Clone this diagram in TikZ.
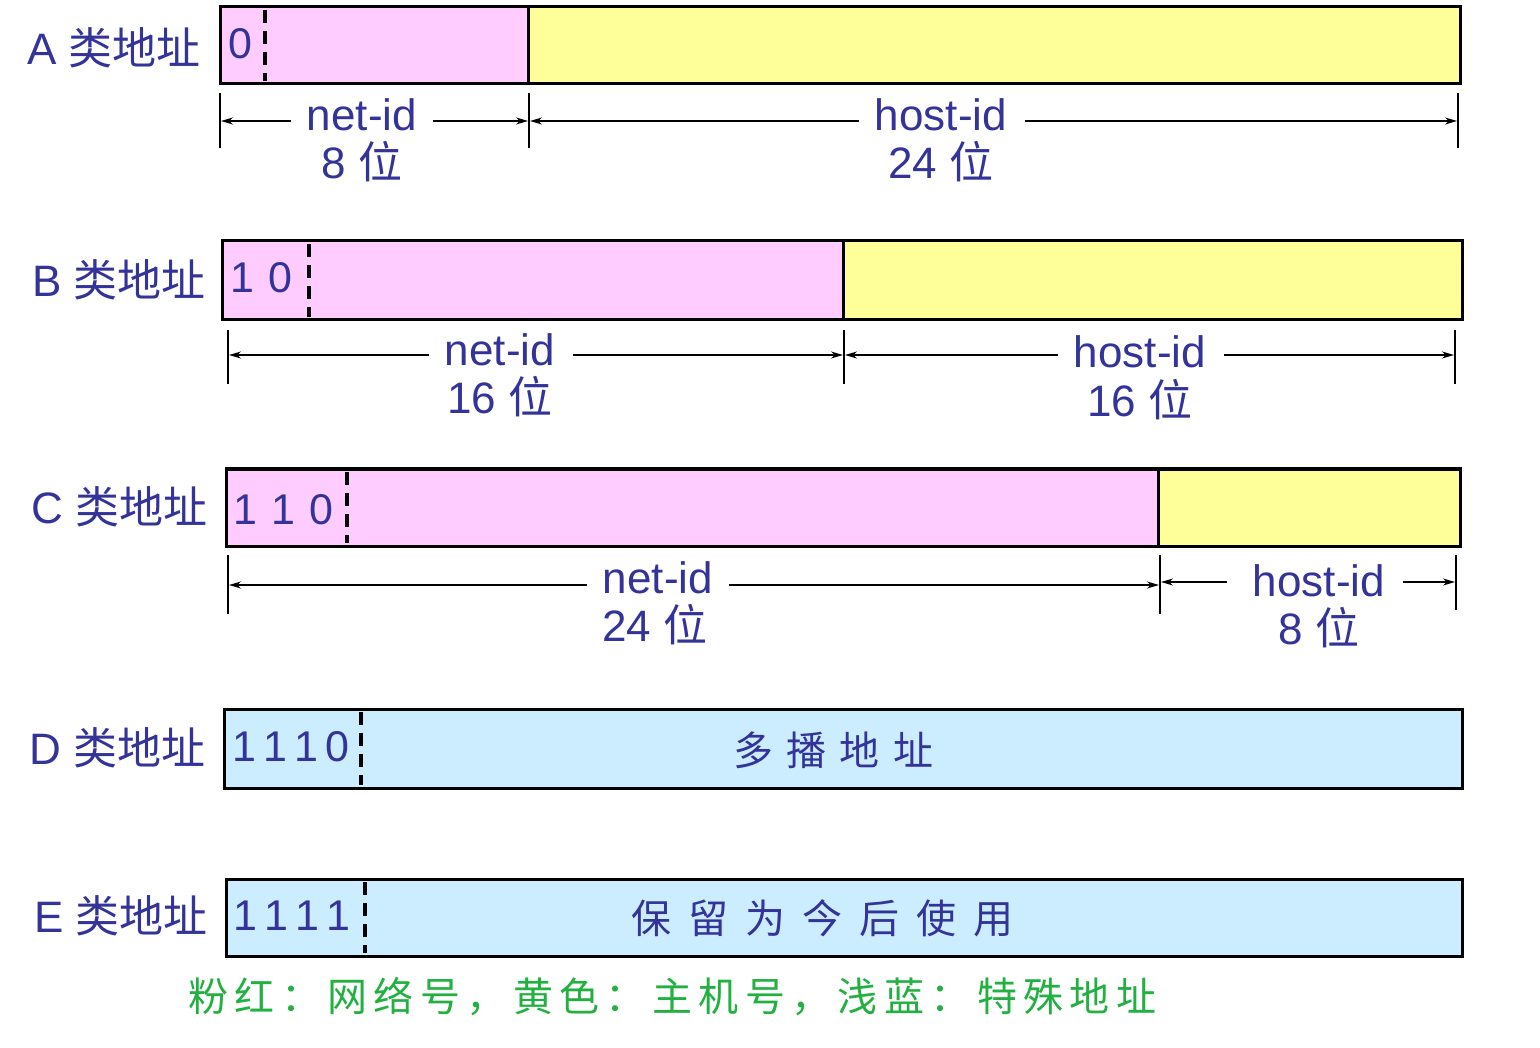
\documentclass[tikz,border=0pt]{standalone}
\usepackage{fontspec}
\setmainfont{Liberation Sans}
\newfontfamily\cjk{Noto Sans CJK SC}
\newfontfamily\cjkwide[LetterSpace=16]{Noto Sans CJK SC}
\usetikzlibrary{arrows.meta}
\definecolor{pinkf}{HTML}{FFCCFF}
\definecolor{yellowf}{HTML}{FFFF99}
\definecolor{bluef}{HTML}{CCECFF}
\definecolor{txt}{HTML}{333399}
\definecolor{grn}{HTML}{22B040}
\tikzset{
  frame/.style={draw=black,line width=3pt},
  sep/.style={draw=black,line width=3pt},
  dsh/.style={draw=black,line width=3.5pt,dash pattern=on 13pt off 8pt},
  cls/.style={text=txt,font=\fontsize{44}{48}\selectfont,anchor=east,inner sep=0pt},
  bits/.style={text=txt,font=\fontsize{43}{46}\selectfont,anchor=west,inner sep=0pt},
  lbl/.style={text=txt,font=\fontsize{44}{48}\selectfont,inner sep=0pt},
  tick/.style={draw=black,line width=1.5pt},
  dim/.style={draw=black,line width=1.5pt,-{Stealth[length=12pt,width=7pt]}},
}
\begin{document}
\begin{tikzpicture}[x=1pt,y=-1pt]
\useasboundingbox (0,0) rectangle (1540,1048);
% ---------- A ----------
\fill[pinkf] (220,7) rectangle (528,84);
\fill[yellowf] (528,7) rectangle (1460,84);
\draw[frame] (220,7) rectangle (1460,84);
\draw[sep] (528,7) -- (528,84);
\draw[dsh] (265,10) -- (265,81);
\node[cls] (la) at (201,48) {A {\cjk 类地址}};
\node[bits] (ba) at (228,44) {0};
\draw[tick] (220,93) -- (220,148);
\draw[tick] (529,93) -- (529,148);
\draw[tick] (1458,93) -- (1458,148);
\coordinate (a1) at (221,121);
\coordinate (a2) at (528,121);
\coordinate (a3) at (530,121);
\coordinate (a4) at (1457,121);
\node[lbl] (na) at (362,115) {net-id};
\node[lbl] (na2) at (362,162) {8 {\cjk 位}};
\node[lbl] (ha) at (941,115) {host-id};
\node[lbl] (ha2) at (941,162) {24 {\cjk 位}};
\draw[dim] ([xshift=-16pt]na.west|-a1) -- (a1);
\draw[dim] ([xshift=16pt]na.east|-a2) -- (a2);
\draw[dim] ([xshift=-16pt]ha.west|-a3) -- (a3);
\draw[dim] ([xshift=18pt]ha.east|-a4) -- (a4);
% ---------- B ----------
\fill[pinkf] (222,241) rectangle (843,320);
\fill[yellowf] (843,241) rectangle (1462,320);
\draw[frame] (222,241) rectangle (1462,320);
\draw[sep] (843,241) -- (843,320);
\draw[dsh] (309,244) -- (309,317);
\node[cls] (lb) at (206,280) {B {\cjk 类地址}};
\node[bits] (bb) at (230,278) {1\,\,0};
\draw[tick] (228,330) -- (228,384);
\draw[tick] (844,330) -- (844,384);
\draw[tick] (1455,330) -- (1455,384);
\coordinate (b1) at (229,355);
\coordinate (b2) at (843,355);
\coordinate (b3) at (845,355);
\coordinate (b4) at (1454,355);
\node[lbl] (nb) at (500,350) {net-id};
\node[lbl] (nb2) at (500,397) {16 {\cjk 位}};
\node[lbl] (hb) at (1140,352) {host-id};
\node[lbl] (hb2) at (1140,400) {16 {\cjk 位}};
\draw[dim] ([xshift=-16pt]nb.west|-b1) -- (b1);
\draw[dim] ([xshift=18pt]nb.east|-b2) -- (b2);
\draw[dim] ([xshift=-16pt]hb.west|-b3) -- (b3);
\draw[dim] ([xshift=18pt]hb.east|-b4) -- (b4);
% ---------- C ----------
\fill[pinkf] (226,469) rectangle (1158,546);
\fill[yellowf] (1158,469) rectangle (1460,546);
\draw[frame] (226,469) rectangle (1460,546);
\draw[sep] (1158,469) -- (1158,546);
\draw[dsh] (347,472) -- (347,543);
\node[cls] (lc) at (208,507) {C {\cjk 类地址}};
\node[bits] (bc) at (233,510) {1\,\,1\,\,0};
\draw[tick] (228,555) -- (228,614);
\draw[tick] (1160,555) -- (1160,614);
\draw[tick] (1456,555) -- (1456,610);
\coordinate (c1) at (229,585);
\coordinate (c2) at (1159,585);
\coordinate (c3) at (1161,582);
\coordinate (c4) at (1455,582);
\node[lbl] (nc) at (658,578) {net-id};
\node[lbl] (nc2) at (655,625) {24 {\cjk 位}};
\node[lbl] (hc) at (1319,581) {host-id};
\node[lbl] (hc2) at (1319,628) {8 {\cjk 位}};
\draw[dim] ([xshift=-16pt]nc.west|-c1) -- (c1);
\draw[dim] ([xshift=16pt]nc.east|-c2) -- (c2);
\draw[dim] ([xshift=-26pt]hc.west|-c3) -- (c3);
\draw[dim] ([xshift=18pt]hc.east|-c4) -- (c4);
% ---------- D ----------
\fill[bluef] (224,709) rectangle (1462,788);
\draw[frame] (224,709) rectangle (1462,788);
\draw[dsh] (361,712) -- (361,785);
\node[cls] (ld) at (206,748) {D {\cjk 类地址}};
\node[bits] (bd) at (232,747) {1\,1\,1\,0};
\node[lbl,font=\cjk\fontsize{40}{44}\selectfont] (td) at (833,750) {多\,\,播\,\,地\,\,址};
% ---------- E ----------
\fill[bluef] (226,879) rectangle (1462,956);
\draw[frame] (226,879) rectangle (1462,956);
\draw[dsh] (365,882) -- (365,953);
\node[cls] (le) at (208,916) {E {\cjk 类地址}};
\node[bits] (be) at (233,916) {1\,1\,1\,1};
\node[lbl,font=\cjk\fontsize{40}{44}\selectfont] (te) at (822,918) {保\hspace{17pt}留\hspace{17pt}为\hspace{17pt}今\hspace{17pt}后\hspace{17pt}使\hspace{17pt}用};
% ---------- legend ----------
\node[text=grn,font=\cjkwide\fontsize{40}{44}\selectfont,anchor=west,inner sep=0pt] (leg) at (188,997) {粉红：网络号，黄色：主机号，浅蓝：特殊地址};
\end{tikzpicture}
\end{document}
